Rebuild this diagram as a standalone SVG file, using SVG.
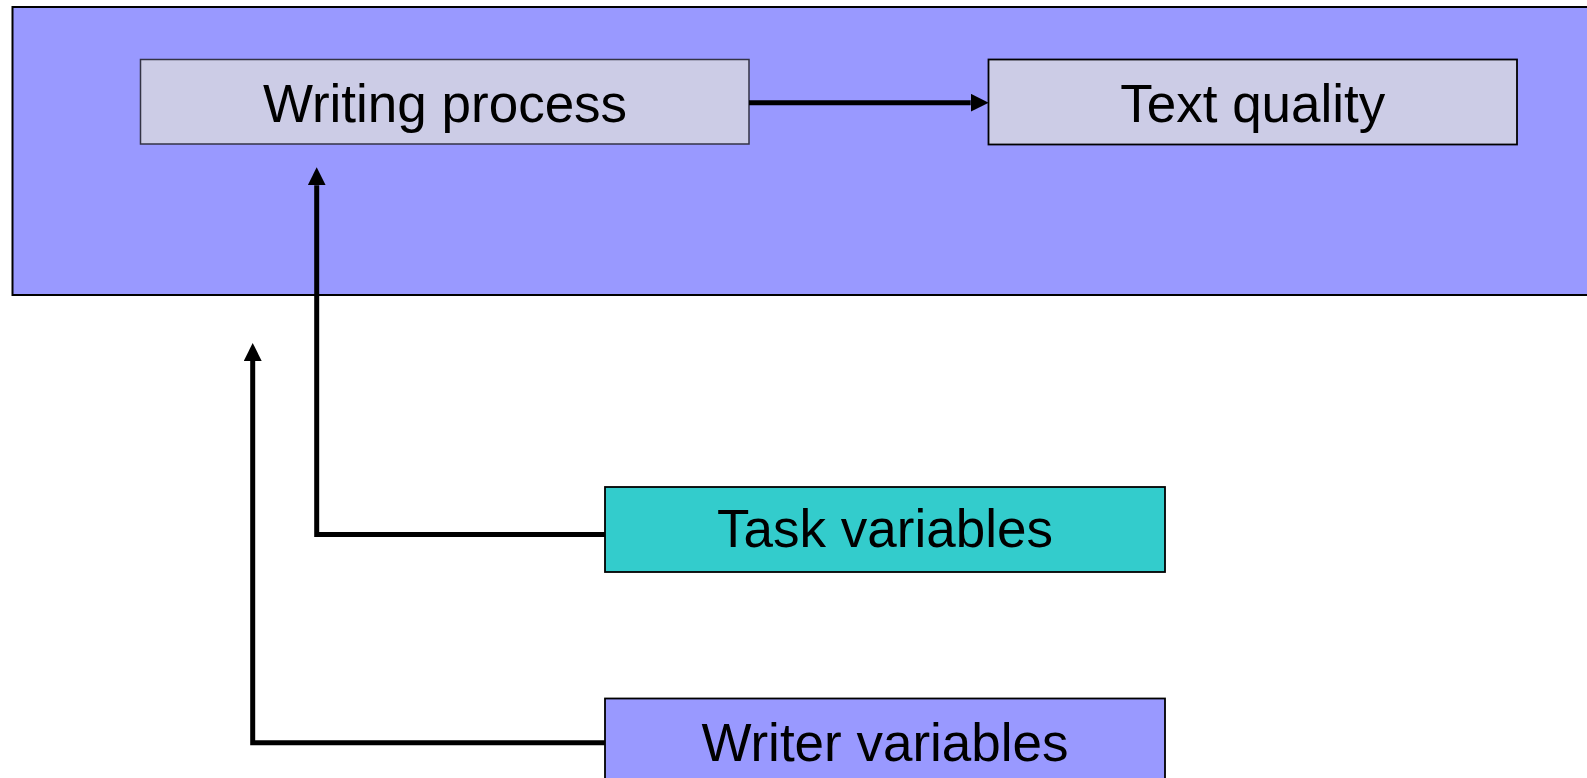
<svg xmlns="http://www.w3.org/2000/svg" width="1587" height="778" viewBox="0 0 1587 778">
<style>
.lbl{font-family:"Liberation Sans",Arial,sans-serif;font-size:53px;fill:#000;text-anchor:middle}
.box{stroke:#000;stroke-width:1.8}
.conn{fill:none;stroke:#000;stroke-width:5}
</style>
<defs>
<marker id="ah" viewBox="0 0 18 18" refX="0" refY="9" markerWidth="18" markerHeight="18" markerUnits="userSpaceOnUse" orient="auto">
<path d="M0,0 L18,9 L0,18 Z" fill="#000"/>
</marker>
</defs>
<rect width="1587" height="778" fill="#fff"/>
<g id="context">
<rect x="12.5" y="7" width="1590" height="288" fill="#9999FF" stroke="#000" stroke-width="2"/>
</g>
<g id="writing-process">
<rect x="140.5" y="59.5" width="608.5" height="84.5" fill="#CCCCE6" stroke="#333344" stroke-width="1.5"/>
<text class="lbl" x="445" y="121.7">Writing process</text>
</g>
<g id="text-quality">
<rect x="988.5" y="59.5" width="528.5" height="85" fill="#CCCCE6" class="box"/>
<text class="lbl" x="1252.8" y="121.7">Text quality</text>
</g>
<g id="task-variables">
<rect x="605" y="487" width="560" height="85" fill="#33CCCC" class="box"/>
<text class="lbl" x="885" y="546.7">Task variables</text>
</g>
<g id="writer-variables">
<rect x="605" y="698.5" width="560" height="90" fill="#9999FF" class="box"/>
<text class="lbl" x="885" y="761">Writer variables</text>
</g>
<g id="connectors">
<path class="conn" d="M749,102.7 H970.7" marker-end="url(#ah)"/>
<path class="conn" d="M605,534.5 H316.7 V185.3" marker-end="url(#ah)"/>
<path class="conn" d="M605,742.7 H252.7 V361" marker-end="url(#ah)"/>
</g>
</svg>
